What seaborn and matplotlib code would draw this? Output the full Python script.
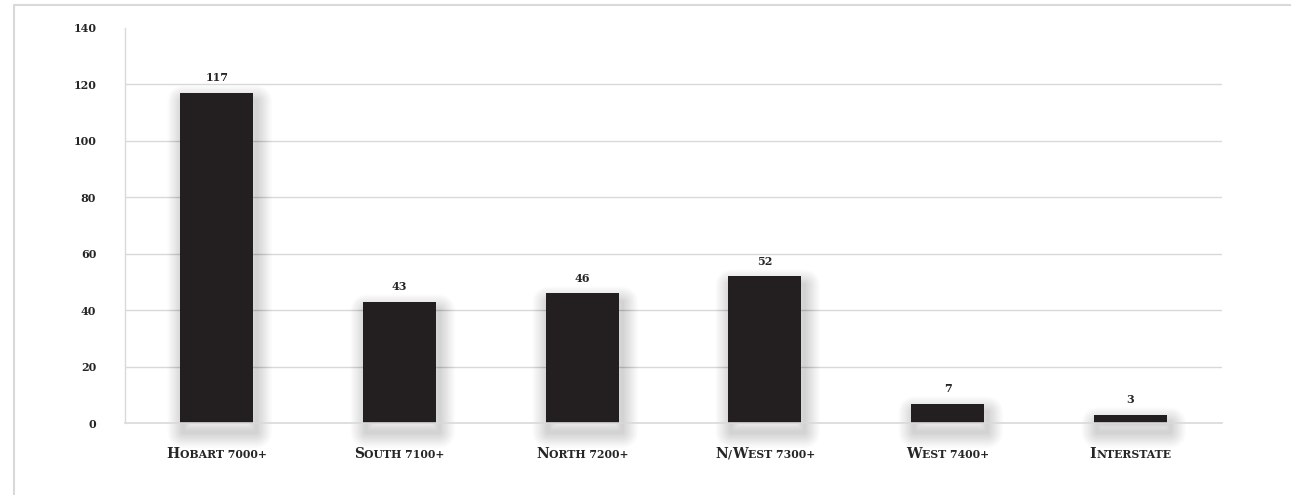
import matplotlib
matplotlib.use("Agg")
import matplotlib.pyplot as plt
import matplotlib.patheffects as pe
from matplotlib.transforms import blended_transform_factory, ScaledTranslation
from matplotlib.patches import Rectangle
import seaborn as sns
import pandas as pd

# Postcode regions and their counts
regions = ["Hobart 7000+", "South 7100+", "North 7200+", "N/West 7300+", "West 7400+", "Interstate"]
counts = [117, 43, 46, 52, 7, 3]
y_ticks = [0, 20, 40, 60, 80, 100, 120, 140]

BAR = "#231f20"
GRID = "#d9d9d9"
TEXT = "#262626"
SERIF = ["DejaVu Serif"]

sns.set_theme(style="white")
plt.rcParams["font.family"] = SERIF


class SoftShadow(pe.AbstractPathEffect):
    """Outline-only stroke used in layers to build a blurred drop shadow."""

    def __init__(self, offset, linewidth, alpha):
        super().__init__(offset)
        self._lw = linewidth
        self._alpha = alpha

    def draw_path(self, renderer, gc, tpath, affine, rgbFace):
        gc0 = renderer.new_gc()
        gc0.copy_properties(gc)
        gc0.set_linewidth(self._lw)
        gc0.set_foreground("black")
        gc0.set_alpha(self._alpha)
        gc0.set_joinstyle("round")
        gc0.set_dashes(0, None)
        renderer.draw_path(gc0, tpath, affine + self._offset_transform(renderer), None)
        gc0.restore()


fig = plt.figure(figsize=(12.91, 4.95), dpi=100)
ax = fig.add_axes([0.0971, 0.1448, 0.8493, 0.7990])

df = pd.DataFrame({"region": regions, "count": counts})
sns.barplot(data=df, x="region", y="count", color=BAR, width=0.4,
            saturation=1, ax=ax, zorder=3)

shadow = [SoftShadow((2, -6), w, 0.0065) for w in range(2, 24, 1)]
for bar in ax.patches:
    bar.set_path_effects(shadow + [pe.Normal()])
    bar.set_edgecolor("none")
    bar.set_clip_on(False)

ax.bar_label(ax.containers[0], labels=[str(c) for c in counts], padding=7,
             fontsize=8, fontweight="bold", color=TEXT)

ax.set_ylim(0, 140)
ax.set_xlim(-0.5, len(regions) - 0.5)
ax.set_yticks(y_ticks)
ax.set_yticklabels([str(t) for t in y_ticks], fontsize=8, fontweight="bold", color=TEXT)
ax.tick_params(axis="y", length=0, pad=21)
ax.tick_params(axis="x", length=0)
ax.set_xticklabels([])
ax.set_xlabel("")
ax.set_ylabel("")

for t in y_ticks[1:-1]:
    ax.axhline(t, color=GRID, lw=1, zorder=1)

for side in ["top", "right"]:
    ax.spines[side].set_visible(False)
ax.spines["left"].set_color(GRID)
ax.spines["bottom"].set_color(GRID)
ax.spines["left"].set_linewidth(1)
ax.spines["bottom"].set_linewidth(1.2)
ax.spines["bottom"].set_zorder(4)

# chart frame
fig.patches.append(Rectangle((13.5 / 1291, -0.1), 1.2, 1.1 - 5.5 / 495,
                             transform=fig.transFigure, fill=False,
                             edgecolor=GRID, lw=1.5, zorder=0))

# category names set in small capitals
def small_caps(xpos, s, big=10.0, small=7.8):
    runs = []
    for ch in s:
        up = ch.isupper()
        if runs and runs[-1][0] == up:
            runs[-1][1] += ch
        else:
            runs.append([up, ch])
    base = blended_transform_factory(ax.transData, ax.transAxes)
    texts = []
    for up, txt in runs:
        t = ax.text(xpos, -0.087, txt.upper(), transform=base,
                    fontsize=big if up else small, fontweight="bold",
                    color=TEXT, ha="left", va="baseline")
        texts.append(t)
    return texts, base

groups = [small_caps(i, r) for i, r in enumerate(regions)]
fig.canvas.draw()
renderer = fig.canvas.get_renderer()
for texts, base in groups:
    widths = [t.get_window_extent(renderer).width for t in texts]
    cursor = -sum(widths) / 2
    for t, w in zip(texts, widths):
        t.set_transform(base + ScaledTranslation(cursor / fig.dpi, 0, fig.dpi_scale_trans))
        cursor += w

fig.savefig("out.png", dpi=100)
